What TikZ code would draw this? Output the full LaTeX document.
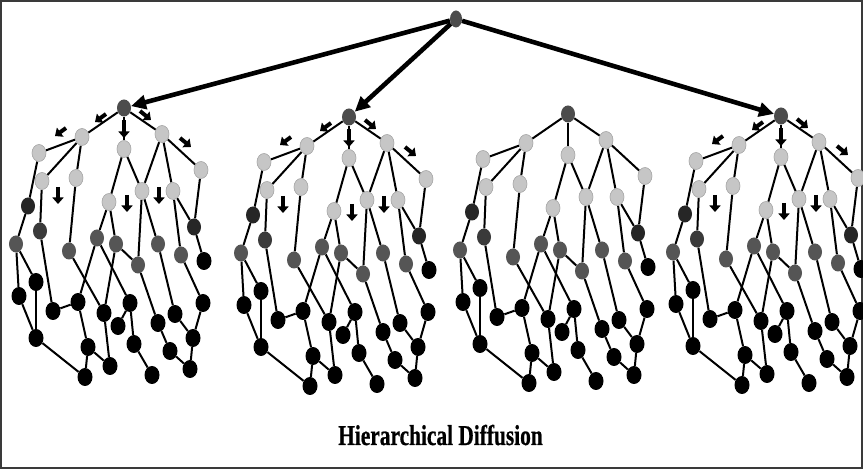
\documentclass[tikz,border=0pt]{standalone}
\usepackage{fontspec}
\usepackage{graphicx}
\setmainfont{Liberation Serif}
\newfontfamily\titlefont[BoldFeatures={FakeBold=0.8}]{Liberation Serif}
\usetikzlibrary{shapes.geometric,arrows.meta,backgrounds}
\definecolor{lightg}{HTML}{C6C6C6}
\definecolor{lightgd}{HTML}{A6A6A6}
\definecolor{midg}{HTML}{555555}
\definecolor{mdkg}{HTML}{3A3A3A}
\definecolor{vdarkg}{HTML}{262626}
\definecolor{rootg}{HTML}{4C4C4C}
\definecolor{frameg}{HTML}{3A3A3A}
\tikzset{
  nd/.style={ellipse, minimum width=14pt, minimum height=17pt, inner sep=0pt},
  lt/.style={nd, fill=lightg, draw=lightgd, line width=0.6pt},
  mid/.style={nd, fill=midg},
  mdk/.style={nd, fill=mdkg},
  vdk/.style={nd, fill=vdarkg},
  blk/.style={nd, fill=black, minimum width=15pt, minimum height=18pt},
  rt/.style={nd, fill=rootg},
  edge/.style={line width=2pt, black},
  sarrow/.style={line width=4pt, -{Triangle[length=6.5pt,width=11pt]}},
  bigarrow/.style={line width=4.6pt, -{Triangle[length=15pt,width=14pt]}}
}
\newcommand\drawtree[3]{%
\begin{scope}[shift={(#2)}]
\foreach \n/\x/\y/\s in {R/124/108/rt, a/82/137/lt, b/124/149/lt, c/162/134/lt,
  d/39/153/lt, e/201/170/lt, f/42/181/lt, g/76/178/lt, h/142/191/lt, i/173/191/lt,
  j/109/202/lt, k/28/206/vdk, l/194/227/vdk, m/40/231/mdk, n/16/244/mid,
  o/69/251/mid, p/97/238/mid, q/116/244/mid, r/138/265/mid, s/158/244/mid,
  t/181/255/mid, u/204/261/blk, v1/19/296/blk, v2/36/282/blk, v3/53/311/blk,
  v4/78/302/blk, v5/104/313/blk, v6/130/303/blk, v7/118/326/blk, v8/134/344/blk,
  v9/152/375/blk, v10/158/323/blk, v11/170/351/blk, v12/190/369/blk,
  v13/175/314/blk, v14/193/338/blk, v15/203/303/blk, v16/36/338/blk,
  v17/88/347/blk, v18/85/377/blk, v19/110/366/blk}{
  \node[\s] (#1\n) at (\x,\y) {};
}
\begin{pgfonlayer}{background}
\foreach \u/\v in {R/a, R/b, R/c, a/d, a/f, a/g, c/e, c/h, c/i, b/h, b/j, d/k,
  e/l, i/l, i/t, h/r, h/s, j/p, j/q, f/m, g/o, k/n, l/u, m/v3, n/v1, n/v2,
  v1/v16, v2/v16, v16/v18, v3/v4, p/v4, p/v6, o/v5, q/v5, q/r, v4/v17,
  v17/v18, v17/v19, v5/v19, v6/v7, v6/v8, v8/v9, r/v10, v10/v11, v11/v12,
  s/v13, v13/v14, v14/v12, t/v15, v15/v14}{
  \draw[edge] (#1\u) -- (#1\v);
}
\end{pgfonlayer}
\ifnum#3=1
  \draw[sarrow] (66,128) -- (55,136);
  \draw[sarrow] (106,114) -- (95,122);
  \draw[sarrow] (124,120) -- (124,138);
  \draw[sarrow] (140,111) -- (151,120);
  \draw[sarrow] (180,138) -- (191,147);
  \draw[sarrow] (58,187) -- (58,204);
  \draw[sarrow] (127,195) -- (127,212);
  \draw[sarrow] (159,187) -- (159,204);
\fi
\end{scope}}
\begin{document}
\begin{tikzpicture}[x=1pt,y=-1pt]
\useasboundingbox (0,0) rectangle (863,470);
\draw[frameg, line width=1.8pt] (1,1) rectangle (862,468);
\drawtree{A}{0,0}{1}
\drawtree{B}{225,9}{1}
\drawtree{C}{444,6}{0}
\drawtree{D}{657,8}{1}
\node[rt, minimum width=12pt, minimum height=17pt] (T) at (456,19) {};
\draw[bigarrow] (T) -- (AR);
\draw[bigarrow] (T) -- (BR);
\draw[bigarrow] (T) -- (DR);
\node[anchor=base, inner sep=0pt] (title) at (440.5,445)
  {\scalebox{0.745}[1]{\titlefont\fontsize{28.7}{30}\selectfont\bfseries Hierarchical Diffusion}};
\end{tikzpicture}
\end{document}
